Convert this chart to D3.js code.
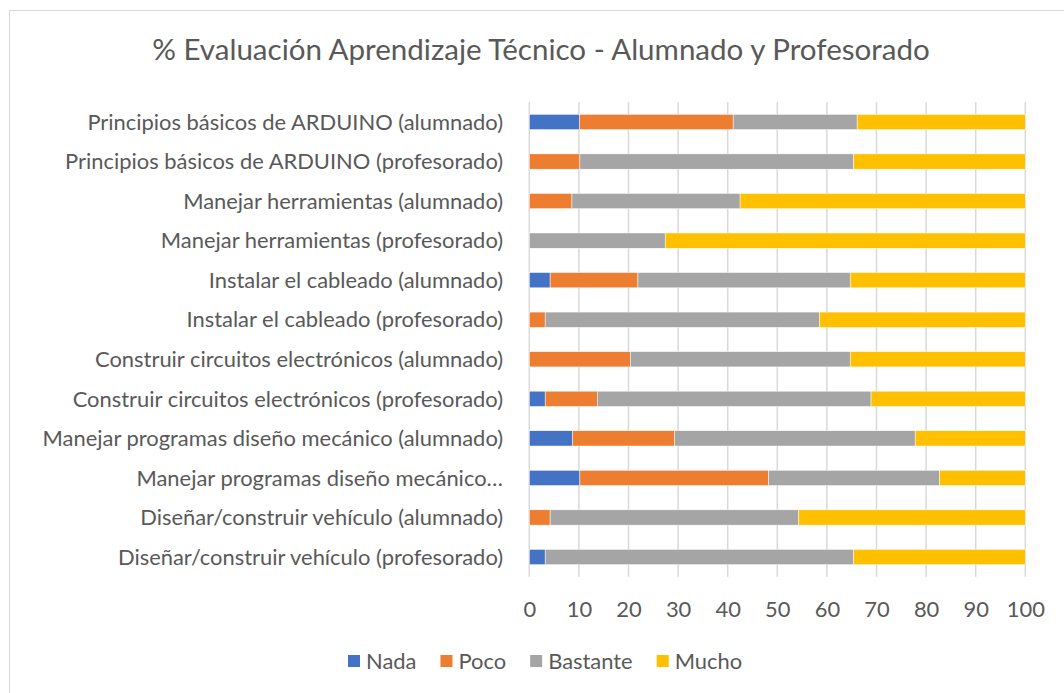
<!DOCTYPE html>
<html>
<head>
<meta charset="utf-8">
<script src="https://cdn.jsdelivr.net/npm/d3@7"></script>
<style>
  body { margin: 0; background: #fff; }
  svg text { font-family: Lato, "Open Sans", sans-serif; fill: #595959; }
</style>
</head>
<body>
<svg id="chart" width="1064" height="693"></svg>
<script>
// ---- data -------------------------------------------------------------
const title = "% Evaluación Aprendizaje Técnico - Alumnado y Profesorado";

const categories = [
  "Principios básicos de ARDUINO (alumnado)",
  "Principios básicos de ARDUINO (profesorado)",
  "Manejar herramientas (alumnado)",
  "Manejar herramientas (profesorado)",
  "Instalar el cableado (alumnado)",
  "Instalar el cableado (profesorado)",
  "Construir circuitos electrónicos (alumnado)",
  "Construir circuitos electrónicos (profesorado)",
  "Manejar programas diseño mecánico (alumnado)",
  "Manejar programas diseño mecánico (profesorado)",
  "Diseñar/construir vehículo (alumnado)",
  "Diseñar/construir vehículo (profesorado)"
];

const nada     = [10.1,  0,    0,    0,    4.2,  0,    0,    3.2,  8.7, 10.2,  0,    3.2];
const poco     = [31.0, 10.2,  8.6,  0,   17.7,  3.2, 20.4, 10.5, 20.6, 38.0,  4.2,  0  ];
const bastante = [25.0, 55.2, 33.9, 27.4, 42.8, 55.3, 44.3, 55.2, 48.5, 34.5, 50.1, 62.2];
const mucho    = [33.9, 34.6, 57.5, 72.6, 35.3, 41.5, 35.3, 31.1, 22.2, 17.3, 45.7, 34.6];

const seriesNames  = ["Nada", "Poco", "Bastante", "Mucho"];
const seriesColors = ["#4472C4", "#ED7D31", "#A5A5A5", "#FFC000"];
const xTicks = [0, 10, 20, 30, 40, 50, 60, 70, 80, 90, 100];

// ---- layout -----------------------------------------------------------
const svg = d3.select("#chart");
const plot = { left: 529.3, right: 1025.3, top: 102.2, bottom: 576.8 };
const labelRight = 503;

// measure a string at a given font size
function textWidth(str, size) {
  const t = svg.append("text").attr("font-size", size).text(str);
  const w = t.node().getComputedTextLength();
  t.remove();
  return w;
}
// font size giving a string a wanted width
function fitSize(str, width) { return 100 * width / textWidth(str, 100); }

const labelSize = fitSize(categories[0], 416);
const titleSize = fitSize(title, 778);

// chart frame
svg.append("rect")
  .attr("x", 9.5).attr("y", 10.5)
  .attr("width", 1070).attr("height", 700)
  .attr("fill", "#fff").attr("stroke", "#d9d9d9").attr("stroke-width", 1);

// title
svg.append("text")
  .attr("x", 541).attr("y", 60)
  .attr("text-anchor", "middle")
  .attr("font-size", titleSize)
  .text(title);

// scales
const x = d3.scaleLinear().domain([0, 100]).range([plot.left, plot.right]);
const y = d3.scaleBand().domain(categories)
  .range([plot.top, plot.bottom])
  .paddingInner(0.613).paddingOuter(0.3065);

// vertical gridlines
svg.append("g")
  .selectAll("line").data(xTicks).join("line")
  .attr("x1", d => x(d)).attr("x2", d => x(d))
  .attr("y1", plot.top).attr("y2", plot.bottom)
  .attr("stroke", "#d9d9d9").attr("stroke-width", 1.5);

// stacked bars
const rows = categories.map((c, i) => ({
  category: c, Nada: nada[i], Poco: poco[i], Bastante: bastante[i], Mucho: mucho[i]
}));
const stacked = d3.stack().keys(seriesNames)(rows);
const color = d3.scaleOrdinal().domain(seriesNames).range(seriesColors);

svg.append("g")
  .selectAll("g").data(stacked).join("g")
  .attr("fill", s => color(s.key))
  .selectAll("rect").data(s => s.filter(d => d[1] - d[0] > 0)).join("rect")
  .attr("x", d => x(d[0]))
  .attr("width", d => x(d[1]) - x(d[0]))
  .attr("y", d => y(d.data.category))
  .attr("height", y.bandwidth())
  .attr("stroke", "#fff").attr("stroke-width", 0.5);

// category axis (labels only), long names shortened with an ellipsis
const maxLabel = d3.max(categories, c => textWidth(c, labelSize) <= 480 ? textWidth(c, labelSize) : 0) + 2;
function shorten(str) {
  if (textWidth(str, labelSize) <= maxLabel) return str;
  const words = str.split(" ");
  while (words.length > 1) {
    words.pop();
    const s = words.join(" ") + "…";
    if (textWidth(s, labelSize) <= maxLabel) return s;
  }
  return str;
}
const yAxis = d3.axisLeft(y).tickSize(0).tickPadding(0).tickFormat(shorten);
svg.append("g")
  .attr("transform", `translate(${labelRight},0)`)
  .call(yAxis)
  .call(g => g.select(".domain").remove())
  .call(g => g.selectAll("text")
    .attr("font-size", labelSize)
    .attr("font-family", null)
    .attr("fill", null)
    .attr("dy", "0.35em"));

// value axis (labels only)
const xAxis = d3.axisBottom(x).tickValues(xTicks).tickSize(0).tickPadding(0);
svg.append("g")
  .attr("transform", `translate(0,609)`)
  .call(xAxis)
  .call(g => g.select(".domain").remove())
  .call(g => g.selectAll("text")
    .attr("font-size", labelSize)
    .attr("font-family", null)
    .attr("fill", null)
    .attr("y", 0)
    .attr("dy", "0.35em"));

// legend
const legend = svg.append("g").attr("transform", "translate(348,661)");
let lx = 0;
seriesNames.forEach((name, i) => {
  const item = legend.append("g").attr("transform", `translate(${lx},0)`);
  item.append("rect")
    .attr("x", 0).attr("y", -6).attr("width", 12).attr("height", 12)
    .attr("fill", seriesColors[i]);
  item.append("text")
    .attr("x", 18).attr("dy", "0.35em")
    .attr("font-size", labelSize)
    .text(name);
  lx += 18 + textWidth(name, labelSize) + 24;
});
</script>
</body>
</html>
